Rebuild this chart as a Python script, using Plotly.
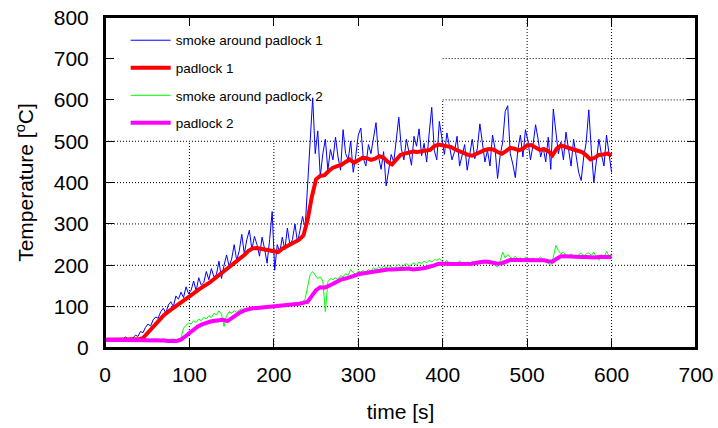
import plotly.graph_objects as go

# time grids [s]
time_smoke = list(range(0, 601, 3))
time_padlock = list(range(0, 601, 5))

smoke_padlock_1 = [
    20, 21, 19, 22, 20, 21, 23, 20, 27, 22, 24,
    24, 31, 28, 40, 37, 50, 58, 53, 68, 75,
    72, 88, 96, 85, 104, 112, 100, 126, 118, 135,
    122, 148, 131, 140, 162, 138, 170, 152, 158, 185,
    165, 192, 172, 178, 210, 168, 200, 225, 198, 215,
    250, 212, 235, 275, 228, 262, 285, 238, 270, 250,
    222, 268, 240, 205, 262, 330, 188, 250, 232, 268,
    238, 290, 250, 262, 300, 255, 285, 318, 290, 395,
    530, 605, 470, 525, 415, 470, 505, 430, 480, 455,
    510, 462, 430, 528, 470, 455, 500, 425, 465, 515,
    532, 458, 440, 492, 470, 510, 545, 462, 432, 475,
    392, 430, 468, 450, 498, 558, 482, 455, 505, 470,
    442, 512, 488, 530, 465, 495, 450, 520, 582, 478,
    455, 548, 505, 468, 520, 490, 455, 475, 512, 440,
    468, 492, 430, 470, 505, 458, 482, 542, 495, 450,
    478, 440, 515, 482, 410, 465, 498, 572, 586, 470,
    445, 412, 480, 515, 462, 528, 500, 455, 492, 540,
    505, 462, 485, 450, 510, 432, 578, 520, 470, 498,
    455, 522, 480, 440, 505, 470, 425, 405, 462, 498,
    576, 480, 400, 452, 505, 468, 440, 515, 472, 425,
]

padlock_1 = [
    20, 20, 20, 20, 20, 20, 20, 20, 21,
    24, 35, 48, 60, 70, 80, 88, 95, 103, 110, 118, 124,
    132, 140, 146, 152, 160, 168, 176, 184, 192, 200,
    207, 215, 225, 235, 241, 242, 240, 239, 237, 236,
    232, 240, 246, 252, 256, 262, 272, 310, 366, 408,
    416, 418, 428, 436, 440, 443, 450, 456, 448, 455,
    460, 459, 455, 458, 464, 460, 450, 444, 455, 467,
    470, 472, 475, 474, 476, 477, 479, 488, 492, 490,
    489, 486, 480, 475, 470, 467, 465, 470, 476, 479,
    481, 480, 474, 470, 476, 484, 482, 478, 482, 490,
    491, 485, 479, 481, 476, 466, 482, 490, 486, 482,
    480, 477, 474, 466, 456, 460, 467, 468, 470, 466,
]

smoke_padlock_2 = [
    20, 21, 20, 22, 21, 20, 21, 22, 20, 21, 22,
    21, 20, 22, 21, 20, 22, 21, 20, 21, 22,
    21, 20, 22, 21, 20, 21, 22, 20, 21, 24,
    48, 55, 60, 58, 66, 62, 70, 66, 74, 70,
    78, 74, 84, 80, 90, 82, 52, 78, 88, 84,
    90, 86, 92, 95, 90, 96, 93, 98, 95, 100,
    97, 101, 99, 100, 98, 102, 100, 99, 103, 101,
    104, 102, 106, 104, 108, 106, 110, 112, 118, 150,
    178, 185, 176, 168, 172, 162, 88, 160, 168, 165,
    170, 166, 175, 172, 180, 176, 190, 182, 178, 186,
    184, 188, 182, 190, 186, 194, 190, 196, 192, 198,
    194, 200, 196, 192, 198, 202, 196, 200, 204, 198,
    202, 206, 200, 208, 204, 210, 206, 212, 208, 214,
    212, 216, 210, 206, 212, 204, 208, 202, 206, 210,
    206, 202, 208, 204, 210, 206, 202, 208, 212, 206,
    210, 204, 208, 200, 196, 210, 232, 218, 226, 220,
    216, 222, 214, 218, 212, 220, 216, 214, 218, 212,
    216, 220, 214, 210, 204, 200, 220, 248, 236, 228,
    232, 224, 220, 228, 222, 218, 226, 230, 222, 228,
    230, 224, 232, 220, 212, 226, 218, 234, 222, 228,
]

padlock_2 = [
    20, 20, 20, 20, 20, 20, 20, 20, 20, 20, 20, 19,
    19, 18, 18, 17, 17, 17, 20, 28, 36, 45, 52, 57,
    61, 64, 66, 68, 68, 65, 72, 80, 86, 91,
    94, 96, 97, 98, 99, 99, 100, 100, 102, 103,
    104, 105, 107, 109, 112, 126, 140, 147, 146, 150,
    156, 161, 166, 168, 172, 176, 178, 180, 182, 184,
    186, 188, 189, 190, 190, 191, 192, 193, 192, 190,
    190, 192, 194, 196, 200, 204, 205, 204, 203, 203,
    203, 203, 203, 204, 206, 208, 209, 208, 206, 204,
    205, 210, 213, 213, 213, 213, 212, 212, 213, 213,
    212, 210, 209, 216, 222, 222, 221, 221, 220, 220,
    220, 219, 219, 220, 220, 220, 220,
]

series_names = ["smoke around padlock 1", "padlock 1",
                "smoke around padlock 2", "padlock 2"]
x_ticks = [0, 100, 200, 300, 400, 500, 600, 700]
y_ticks = [0, 100, 200, 300, 400, 500, 600, 700, 800]

fig = go.Figure()
fig.add_trace(go.Scatter(x=time_smoke, y=smoke_padlock_1, mode="lines",
                         name=series_names[0], legendgroup="a",
                         line=dict(color="#0000ff", width=1)))
fig.add_trace(go.Scatter(x=time_padlock, y=padlock_1, mode="lines",
                         name=series_names[1], legendgroup="b",
                         line=dict(color="#ff0000", width=4)))
fig.add_trace(go.Scatter(x=time_smoke, y=smoke_padlock_2, mode="lines",
                         name=series_names[2], legendgroup="c",
                         line=dict(color="#00ff00", width=1)))
fig.add_trace(go.Scatter(x=time_padlock, y=padlock_2, mode="lines",
                         name=series_names[3], legendgroup="d",
                         line=dict(color="#ff00ff", width=4)))
# empty helper trace so the top (mirror) axis is drawn
fig.add_trace(go.Scatter(x=[], y=[], xaxis="x2", yaxis="y",
                         showlegend=False, hoverinfo="skip"))

# dotted grid, interrupted under the key (as in gnuplot)
grid = dict(color="#000000", width=1, dash="1px,2px")
shapes = []
for xv in x_ticks[1:-1]:
    ytop = 500 if xv < 400 else (600 if xv == 400 else 800)
    shapes.append(dict(type="line", xref="x", yref="y", x0=xv, x1=xv,
                       y0=0, y1=ytop, line=grid, layer="below"))
for yv in y_ticks[1:-1]:
    xstart = 0 if yv <= 500 else 400
    shapes.append(dict(type="line", xref="x", yref="y", x0=xstart, x1=700,
                       y0=yv, y1=yv, line=grid, layer="below"))
# plot frame
shapes.append(dict(type="rect", xref="paper", yref="paper", x0=0, x1=1,
                   y0=0, y1=1, line=dict(color="black", width=2),
                   layer="above"))

axis_common = dict(showgrid=False, zeroline=False, showline=True,
                   linecolor="black", linewidth=2,
                   ticks="inside", ticklen=9, tickwidth=1, tickcolor="black",
                   tickfont=dict(size=21, color="black"), automargin=False)

fig.update_layout(
    width=718, height=428,
    margin=dict(l=105, r=22, t=17, b=80),
    paper_bgcolor="white", plot_bgcolor="white",
    font=dict(family="Liberation Sans, Arial, sans-serif", color="black"),
    shapes=shapes,
    showlegend=True,
    legend=dict(x=0.035, y=0.976, xanchor="left", yanchor="top",
                bgcolor="rgba(0,0,0,0)", borderwidth=0,
                font=dict(size=13.5, color="black"), itemwidth=40,
                traceorder="grouped", tracegroupgap=7),
    xaxis=dict(range=[0, 700], tickvals=x_ticks, ticklabelstandoff=7,
               title=dict(text="time [s]", font=dict(size=21), standoff=19),
               **axis_common),
    xaxis2=dict(range=[0, 700], tickvals=x_ticks, overlaying="x", anchor="y",
                side="top", showticklabels=False, **axis_common),
    yaxis=dict(range=[0, 800.5], tickvals=y_ticks, ticklabelstandoff=10,
               mirror="ticks",
               title=dict(text="Temperature [<sup>o</sup>C]", font=dict(size=21), standoff=14),
               **axis_common),
)

fig.write_html(
    "out.html",
    config={"displayModeBar": False},
    post_script="document.body.style.margin='0';document.body.style.overflow='hidden';",
)
